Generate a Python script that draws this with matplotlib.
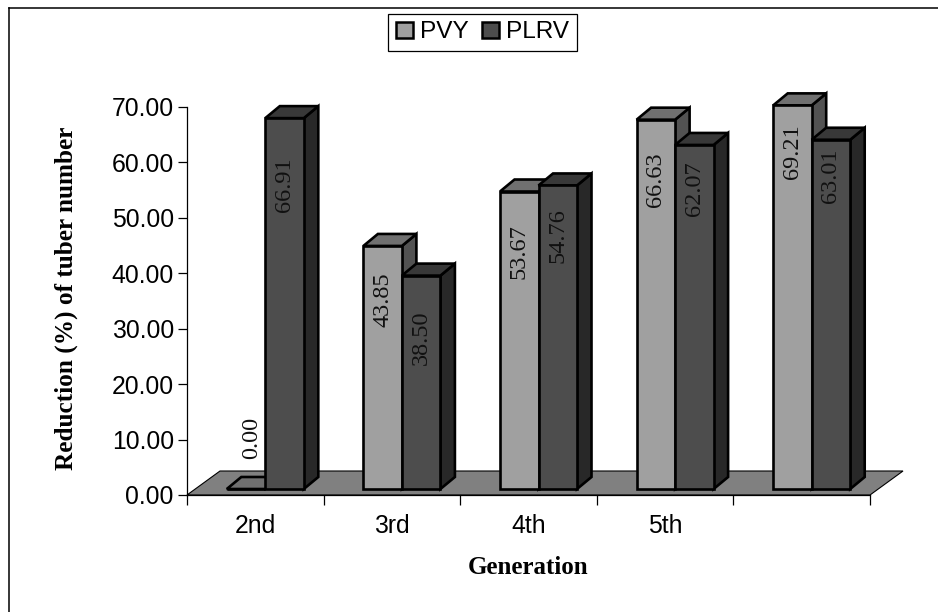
import numpy as np
import matplotlib
matplotlib.use('Agg')
import matplotlib.pyplot as plt
from matplotlib.patches import Polygon, Patch

categories = ['2nd', '3rd', '4th', '5th', '']
pvy = [0.00, 43.85, 53.67, 66.63, 69.21]
plrv = [66.91, 38.50, 54.76, 62.07, 63.01]
y_ticks = [0, 10, 20, 30, 40, 50, 60, 70]

# how far each value label sits below the top of its bar, in pixels
pvy_label_drop = [-51, 54, 60, 60, 46.5]
plrv_label_drop = [67, 62, 50, 44, 36]

W, H = 938, 612
X0, X1, Y0, Y70 = 187, 870, 495, 107

fig = plt.figure(figsize=(W / 100, H / 100), dpi=100)
ax = fig.add_axes([X0 / W, 1 - Y0 / H, (X1 - X0) / W, (Y0 - Y70) / H])
ax.set_xlim(0, 5)
ax.set_ylim(0, 70)

# pixel sizes converted to data units
ux = (X1 - X0) / 5
uy = (Y0 - Y70) / 70
dx = 14.5 / ux       # depth of a bar
dy = 12 / uy
bw = 38.5 / ux
base = 6 / uy        # bars stand a little inside the floor
shift = 10 / ux

# floor
floor_dx = 33 / ux
floor_dy = 24 / uy
ax.add_patch(Polygon([(0, 0), (5, 0), (5 + floor_dx, floor_dy), (floor_dx, floor_dy)],
                     fc='#808080', ec='black', lw=0.8, clip_on=False, zorder=1))


def bar3d(x, val, front, top, side, z):
    h = max(val, 0)
    y = base + h
    lw = 1.9
    ax.add_patch(Polygon([(x + bw, base), (x + bw + dx, base + dy), (x + bw + dx, y + dy), (x + bw, y)],
                         fc=side, ec='black', lw=lw, clip_on=False, zorder=z, joinstyle='miter'))
    ax.add_patch(Polygon([(x, y), (x + dx, y + dy), (x + bw + dx, y + dy), (x + bw, y)],
                         fc=top, ec='black', lw=lw, clip_on=False, zorder=z, joinstyle='miter'))
    ax.bar(x, h, width=bw, bottom=base, align='edge', color=front, edgecolor='black',
           linewidth=lw, clip_on=False, zorder=z + 0.1)


for i, cat in enumerate(categories):
    x_a = i + 0.5 + shift - bw
    x_b = i + 0.5 + shift
    bar3d(x_a, pvy[i], '#a0a0a0', '#707070', '#525252', 3 + 2 * i)
    bar3d(x_b, plrv[i], '#4d4d4d', '#383838', '#282828', 4 + 2 * i)
    # value labels, rotated
    lab_x = x_a + bw / 2 if pvy[i] > 1 else x_a + bw / 2 + 6 / ux
    ax.text(lab_x, base + pvy[i] - pvy_label_drop[i] / uy, f'{pvy[i]:.2f}', rotation=90, ha='center', va='center',
            family='Liberation Serif', fontsize=17.5, color='#111111', zorder=30, clip_on=False)
    ax.text(x_b + bw / 2, base + plrv[i] - plrv_label_drop[i] / uy, f'{plrv[i]:.2f}', rotation=90, ha='center',
            va='center', family='Liberation Serif', fontsize=17.5, color='#111111', zorder=30, clip_on=False)

for s in ['top', 'right']:
    ax.spines[s].set_visible(False)
ax.spines['left'].set_linewidth(0.9)
ax.spines['bottom'].set_linewidth(0.9)
ax.spines['bottom'].set_zorder(2)

ax.set_yticks(y_ticks)
ax.set_yticklabels([f'{v:.2f}' for v in y_ticks], family='Liberation Sans', fontsize=17.8)
ax.set_xticks(range(6))
ax.set_xticklabels([])
ax.tick_params(axis='y', length=6.5, width=0.9, pad=3)
ax.tick_params(axis='x', length=7, width=0.9, direction='out')
for i, cat in enumerate(categories):
    fig.text((X0 + ux * (i + 0.5)) / W, 1 - 526 / H, cat, ha='center', va='center',
             family='Liberation Sans', fontsize=17.8)

fig.text(66.5 / W, 1 - 298 / H, 'Reduction (%) of tuber number', rotation=90, ha='center', va='center',
         family='Liberation Serif', fontweight='bold', fontsize=18.2)
fig.text(528 / W, 1 - 568 / H, 'Generation', ha='center', va='center',
         family='Liberation Serif', fontweight='bold', fontsize=18)

# frame of the picture
fig.add_artist(plt.Line2D([8.5 / W, 8.5 / W], [0, 1 - 7.5 / H], color='black', lw=1.1))
fig.add_artist(plt.Line2D([8.5 / W, 1], [1 - 7.5 / H, 1 - 7.5 / H], color='black', lw=1.1))

handles = [Patch(fc='#a0a0a0', ec='black', lw=1.8, label='PVY'),
           Patch(fc='#4d4d4d', ec='black', lw=1.8, label='PLRV')]
leg = fig.legend(handles=handles, ncol=2, loc='center', bbox_to_anchor=(482.5 / W, 1 - 32.5 / H),
                 frameon=True, fancybox=False, edgecolor='black', framealpha=1,
                 prop={'family': 'Liberation Sans', 'size': 17.6},
                 handlelength=0.68, handleheight=0.68, handletextpad=0.3, columnspacing=0.55,
                 borderpad=0.32, borderaxespad=0)
leg.get_frame().set_linewidth(0.9)

fig.savefig('out.png', dpi=100)
